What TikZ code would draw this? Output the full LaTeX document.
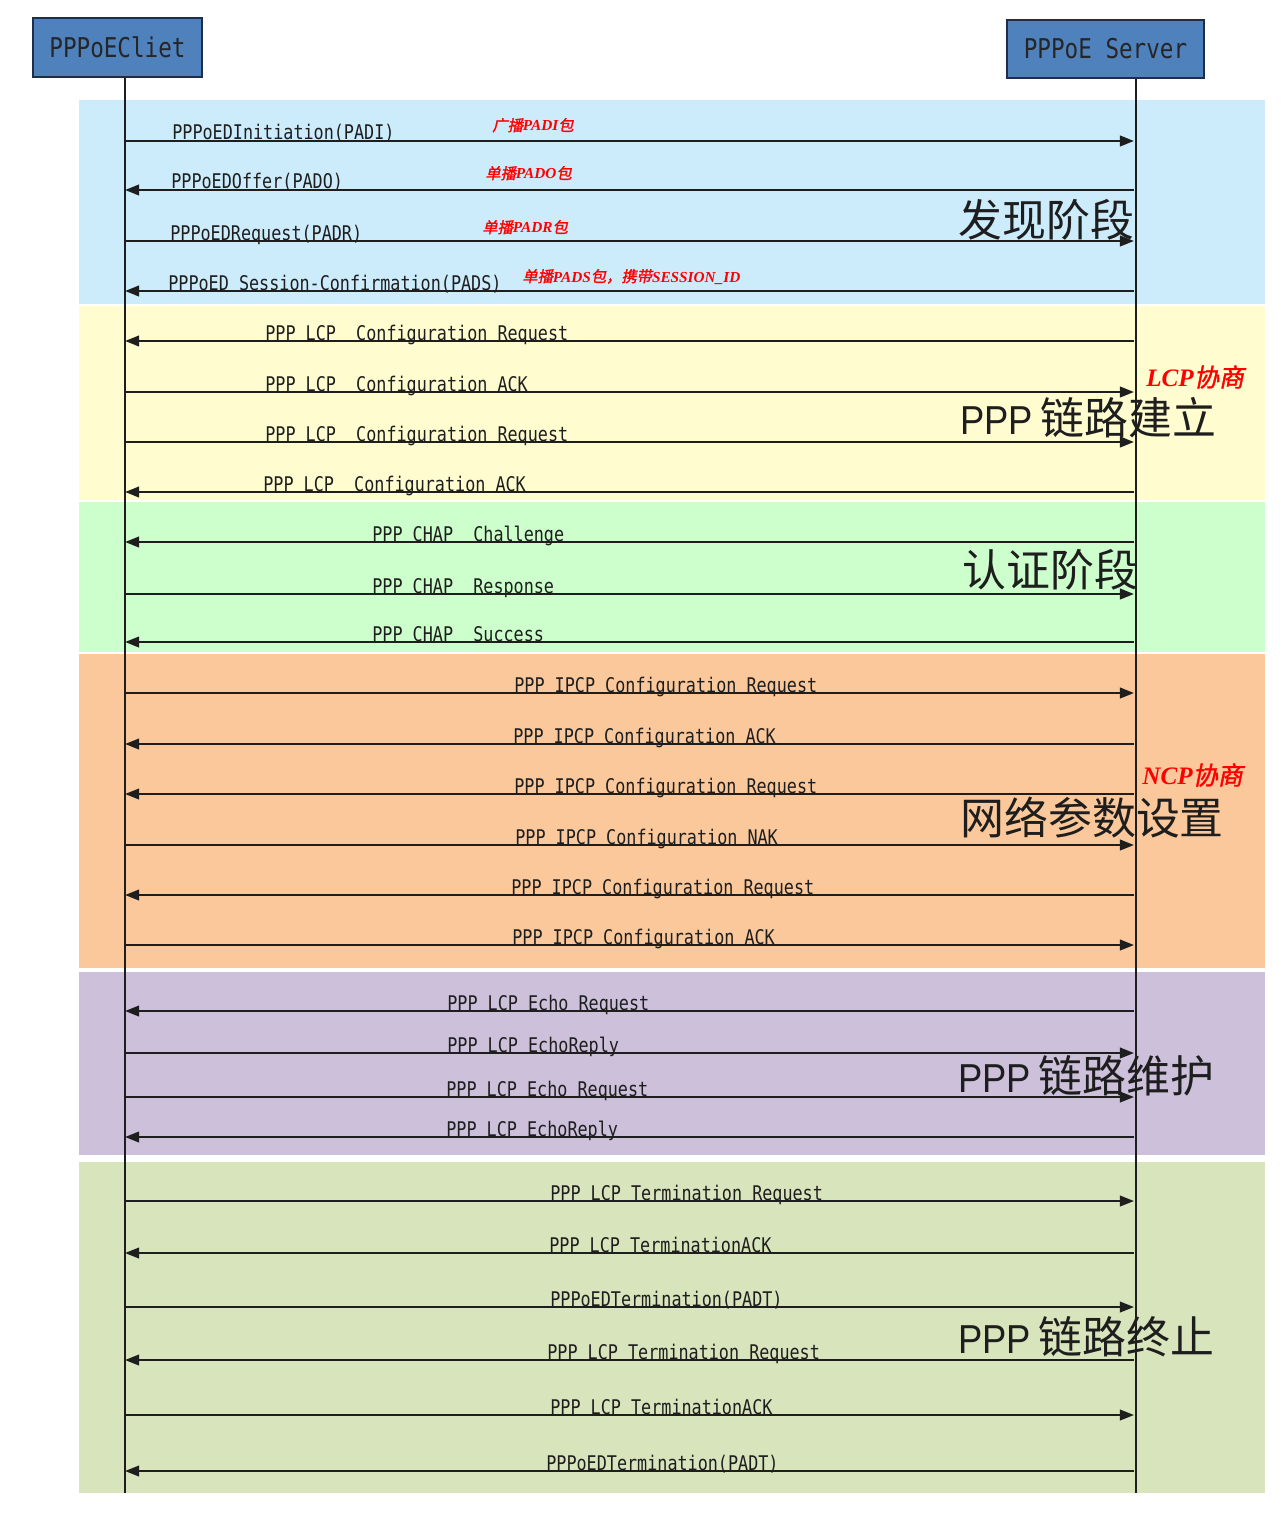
\documentclass[tikz,border=0pt]{standalone}
\usepackage{fontspec}
\usetikzlibrary{arrows.meta}
\newfontfamily\monof[FakeStretch=0.83]{DejaVu Sans Mono}
\newfontfamily\cjkf{Noto Sans CJK SC}
\newfontfamily\rcjkf[FakeSlant=0.2,FakeBold=1.5]{Noto Sans CJK SC}
\newfontfamily\rlatf{Liberation Serif}
\newfontfamily\bigsansf[FakeStretch=0.9]{Liberation Sans}
\newcommand\rtxtL[1]{{\rlatf\bfseries\itshape #1}}
\newcommand\rtxtC[1]{{\rcjkf #1}}
\definecolor{boxblue}{RGB}{79,129,189}
\definecolor{boxedge}{RGB}{30,45,75}
\definecolor{bandA}{RGB}{204,236,252}
\definecolor{bandB}{RGB}{255,253,208}
\definecolor{bandC}{RGB}{204,255,204}
\definecolor{bandD}{RGB}{250,200,155}
\definecolor{bandE}{RGB}{204,192,218}
\definecolor{bandF}{RGB}{216,228,188}
\definecolor{ink}{RGB}{30,30,30}
\tikzset{
  actor/.style={draw=boxedge,line width=1.1pt,fill=boxblue,inner sep=0pt,
     font=\monof\fontsize{15.5pt}{18pt}\selectfont,text=black!85},
  life/.style={line width=0.8pt,draw=ink},
  msg/.style={line width=1.2pt,draw=ink,-{Triangle[length=8pt,width=6pt]}},
  lab/.style={inner sep=0pt,anchor=base west,text=ink,font=\monof\fontsize{11.5pt}{13pt}\selectfont},
  redsmall/.style={inner sep=0pt,anchor=base west,text=red,font=\fontsize{8.7pt}{10pt}\selectfont},
  redbig/.style={inner sep=0pt,anchor=west,text=red,font=\fontsize{14.3pt}{16pt}\selectfont},
  phase/.style={inner sep=0pt,anchor=west,text=ink,font=\cjkf\fontsize{25pt}{28pt}\selectfont},
}
\newcommand\PPPbig{{\bigsansf\fontsize{23pt}{26pt}\selectfont PPP}\,}
\begin{document}
\begin{tikzpicture}[x=0.02cm,y=-0.02cm]
\useasboundingbox[fill=white] (0,0) rectangle (1286,1517);
% bands
\fill[bandA] (79,100) rectangle (1265,304);
\fill[bandB] (79,306) rectangle (1265,500);
\fill[bandC] (79,502) rectangle (1265,652);
\fill[bandD] (79,654) rectangle (1265,968);
\fill[bandE] (79,972) rectangle (1265,1155);
\fill[bandF] (79,1162) rectangle (1265,1493);
% actors
\node[actor,minimum width=3.38cm,minimum height=1.18cm] (client) at (117.5,47.5) {PPPoECliet};
\node[actor,minimum width=3.94cm,minimum height=1.16cm] (server) at (1105.5,49) {PPPoE Server};
\coordinate (cx) at (125,0);
\coordinate (sx) at (1136,0);
\coordinate (cbot) at (125,1493);
\coordinate (sbot) at (1136,1493);
\draw[life] (client.south -| cx) -- (cbot);
\draw[life] (server.south -| sx) -- (sbot);
% phase labels
\node[phase] (p1) at (958,220) {发现阶段};
\node[phase] (p2) at (960,418) {\PPPbig 链路建立};
\node[phase] (p3) at (962,570) {认证阶段};
\node[phase] (p4) at (960,818) {网络参数设置};
\node[phase] (p5) at (958,1076) {\PPPbig 链路维护};
\node[phase] (p6) at (958,1337) {\PPPbig 链路终止};
\node[redbig] (n1) at (1146,377) {\rtxtL{LCP}\rtxtC{协商}};
\node[redbig] (n2) at (1142,775) {\rtxtL{NCP}\rtxtC{协商}};
% messages
\foreach \i/\y/\d/\x/\t in {
 1/141/1/172/{PPPoEDInitiation(PADI)},
 2/190/0/171/{PPPoEDOffer(PADO)},
 3/241/1/170/{PPPoEDRequest(PADR)},
 4/291/0/168/{PPPoED Session-Confirmation(PADS)},
 5/341/0/265/{PPP LCP\ \ Configuration Request},
 6/392/1/265/{PPP LCP\ \ Configuration ACK},
 7/442/1/265/{PPP LCP\ \ Configuration Request},
 8/492/0/263/{PPP LCP\ \ Configuration ACK},
 9/542/0/372/{PPP CHAP\ \ Challenge},
 10/594/1/372/{PPP CHAP\ \ Response},
 11/642/0/372/{PPP CHAP\ \ Success},
 12/693/1/514/{PPP IPCP Configuration Request},
 13/744/0/513/{PPP IPCP Configuration ACK},
 14/794/0/514/{PPP IPCP Configuration Request},
 15/845/1/515/{PPP IPCP Configuration NAK},
 16/895/0/511/{PPP IPCP Configuration Request},
 17/945/1/512/{PPP IPCP Configuration ACK},
 18/1011/0/447/{PPP LCP Echo Request},
 19/1053/1/447/{PPP LCP EchoReply},
 20/1097/1/446/{PPP LCP Echo Request},
 21/1137/0/446/{PPP LCP EchoReply},
 22/1201/1/550/{PPP LCP Termination Request},
 23/1253/0/549/{PPP LCP TerminationACK},
 24/1307/1/550/{PPPoEDTermination(PADT)},
 25/1360/0/547/{PPP LCP Termination Request},
 26/1415/1/550/{PPP LCP TerminationACK},
 27/1471/0/546/{PPPoEDTermination(PADT)}}
{
 \coordinate (c\i) at (125,\y);
 \coordinate (s\i) at (1134,\y);
 \ifnum\d=1
   \draw[msg] (c\i) -- (s\i);
 \else
   \draw[msg] (s\i) -- (c\i);
 \fi
 \node[lab] (l\i) at (\x,\y-1) {\t};
}
% red annotations
\node[redsmall] (r1) at (492,131) {\rtxtC{广播}\rtxtL{PADI}\rtxtC{包}};
\node[redsmall] (r2) at (485,179) {\rtxtC{单播}\rtxtL{PADO}\rtxtC{包}};
\node[redsmall] (r3) at (482,233) {\rtxtC{单播}\rtxtL{PADR}\rtxtC{包}};
\node[redsmall] (r4) at (522,282) {\rtxtC{单播}\rtxtL{PADS}\rtxtC{包，携带}\rtxtL{SESSION\_ID}};
\end{tikzpicture}
\end{document}
